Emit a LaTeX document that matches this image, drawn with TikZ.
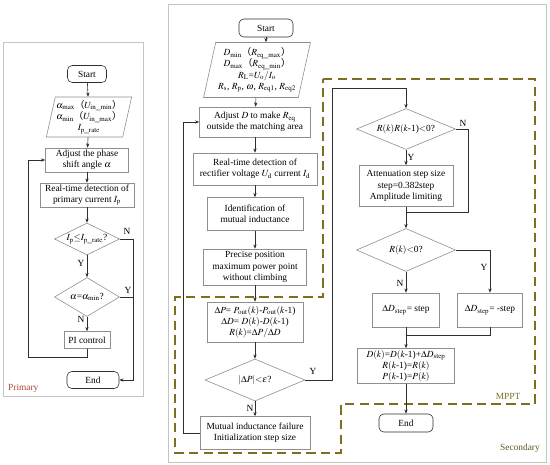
\documentclass[tikz,border=0pt]{standalone}
\usepackage{mathptmx}
\usepackage{fontspec}
\setmainfont{Liberation Serif}
\newfontfamily\cjkfont{Noto Sans CJK SC}
\usetikzlibrary{arrows.meta,shapes.geometric}
\usetikzlibrary{positioning}

\definecolor{framegray}{HTML}{C4C4C4}
\definecolor{boxgray}{HTML}{8E8E8E}
\definecolor{linegray}{HTML}{2E2E2E}
\definecolor{mpptolive}{HTML}{7D6E22}
\definecolor{primred}{HTML}{A8433A}
\newcommand{\lpar}{{\cjkfont （}}
\newcommand{\rpar}{{\cjkfont ）}}

\begin{document}
\begin{tikzpicture}[x=0.03cm,y=-0.03cm,>={Stealth[length=3.6pt,width=2.8pt]},
    font=\fontsize{8}{9.6}\selectfont,
    proc/.style={rectangle, draw=boxgray, fill=white, align=center, inner sep=1pt, line width=0.5pt},
    term/.style={rectangle, rounded corners=4pt, draw=linegray, fill=white, line width=0.5pt},
    dec/.style={diamond, aspect=2.35, draw=boxgray, fill=white, inner sep=0pt, line width=0.5pt},
    inout/.style={trapezium, trapezium left angle=76, trapezium right angle=104,
                  trapezium stretches=true, draw=boxgray, fill=white, align=center, inner sep=1pt, line width=0.5pt},
    flow/.style={->, draw=linegray, line width=0.5pt},
    line/.style={draw=linegray, line width=0.5pt},
    lbl/.style={inner sep=0pt},
    frame/.style={draw=framegray, line width=0.6pt}]

\useasboundingbox (0,0) rectangle (550,464);

% frames
\draw[frame] (3,42) rectangle (143,396);
\draw[frame] (168,4) rectangle (546,462);
\draw[draw=mpptolive, line width=1.2pt, dash pattern=on 8pt off 4.5pt]
    (323,79) -- (535,79) -- (535,404) -- (341,404) -- (341,453) -- (175,453) -- (175,297) -- (323,297) -- cycle;

% primary side
\node[term, minimum width=1.17cm, minimum height=0.51cm] (pstart) at (87,74) {Start};
\node[inout, minimum width=1.95cm, minimum height=1.2cm] (pin) at (89,117)
    {$\alpha_{\max}$\lpar$U_{\mathrm{in\_min}}$\rpar\\$\alpha_{\min}$\lpar$U_{\mathrm{in\_max}}$\rpar\\$I_{\mathrm{p\_rate}}$};
\node[proc, minimum width=2.49cm, minimum height=0.72cm] (padj) at (87,160) {Adjust the phase\\shift angle $\alpha$};
\node[proc, minimum width=2.82cm, minimum height=0.72cm] (pdet) at (87,195) {Real-time detection of\\primary current $I_{\mathrm{p}}$};
\node[dec, aspect=2, minimum width=1.95cm, minimum height=0.96cm] (pd1) at (87,239) {$I_{\mathrm{p}}{\leq}I_{\mathrm{p\_rate}}$?};
\node[dec, aspect=1.67, minimum width=1.95cm, minimum height=1.17cm] (pd2) at (87,297) {$\alpha$=$\alpha_{\min}$?};
\node[proc, minimum width=1.38cm, minimum height=0.51cm] (ppi) at (87,340) {PI control};
\node[term, minimum width=1.56cm, minimum height=0.51cm] (pend) at (93,380) {End};
\coordinate (ploop) at (28,357);
\coordinate (pright) at (133,380);

\path[flow]
    (pstart) edge (pin)
    (pin) edge (padj)
    (padj) edge (pdet)
    (pdet) edge (pd1)
    (pd1) edge (pd2)
    (pd2) edge (ppi);
\draw[flow] (ppi.south) |- (ploop) |- (padj.west);
\draw[flow] (pd1.east) -| (pright) -- (pend.east);
\draw[line] (pd2.east) -- (pd2.east -| pright);

\node[lbl] (pN1) at (127,231) {N};
\node[lbl] (pY1) at (81,263) {Y};
\node[lbl] (pY2) at (128,290) {Y};
\node[lbl] (pN2) at (81,319) {N};
\node[lbl, text=primred, anchor=west] (prim) at (8,388) {Primary};

% secondary side
\node[term, minimum width=1.62cm, minimum height=0.54cm] (sstart) at (266,28) {Start};
\node[inout, minimum width=3.21cm, minimum height=1.65cm] (sin) at (257,70)
    {$D_{\min}$\lpar$R_{\mathrm{eq\_max}}$\rpar\\$D_{\max}$\lpar$R_{\mathrm{eq\_min}}$\rpar\\$R_{\mathrm{L}}$=$U_{\mathrm{o}}/I_{\mathrm{o}}$\\$R_{\mathrm{s}}$, $R_{\mathrm{p}}$, $\omega$, $R_{\mathrm{eq1}}$, $R_{\mathrm{eq2}}$};
\node[proc, minimum width=3.33cm, minimum height=0.9cm] (sadj) at (255,122) {Adjust $D$ to make $R_{\mathrm{eq}}$\\outside the matching area};
\node[proc, minimum width=3.72cm, minimum height=0.96cm] (sdet) at (255,169) {Real-time detection of\\rectifier voltage $U_{\mathrm{d}}$ current $I_{\mathrm{d}}$};
\node[proc, minimum width=2.88cm, minimum height=0.99cm] (sid) at (255,214) {Identification of\\mutual inductance};
\node[proc, minimum width=3.09cm, minimum height=1.08cm] (spre) at (255,267) {Precise position\\maximum power point\\without climbing};
\node[proc, minimum width=2.88cm, minimum height=1.2cm] (scal) at (255,322)
    {$\Delta P$= $P_{\mathrm{out}}(k)$-$P_{\mathrm{out}}(k$-1)\\$\Delta D$= $D(k)$-$D(k$-1)\\$R(k)$=$\Delta P/\Delta D$};
\node[dec, aspect=2.38, minimum width=3.0cm, minimum height=1.26cm] (sdec) at (255,380) {$|\Delta P|{<}\varepsilon$?};
\node[proc, minimum width=3.3cm, minimum height=0.99cm] (sfail) at (255,433) {Mutual inductance failure\\Initialization step size};
\coordinate (sytop) at (332,88);
\coordinate (sloop) at (183,433);

\draw[flow] (sstart.south) -- (sstart.south |- sin.north);
\path[flow]
    (sin) edge (sadj)
    (sadj) edge (sdet)
    (sdet) edge (sid)
    (sid) edge (spre)
    (spre) edge (scal)
    (scal) edge (sdec)
    (sdec) edge (sfail);
\draw[flow] (sfail.west) -- (sloop) |- (sadj.west);

% MPPT loop
\node[dec, aspect=2.4, minimum width=2.97cm, minimum height=1.23cm] (rd1) at (406,129) {$R(k)R(k$-1)$<$0?};
\node[proc, minimum width=2.82cm, minimum height=1.23cm] (ratt) at (406,186) {Attenuation step size\\step=0.382step\\Amplitude limiting};
\node[dec, aspect=2.3, minimum width=2.97cm, minimum height=1.29cm] (rd2) at (406,250) {$R(k)$$<$0?};
\node[proc, minimum width=2.01cm, minimum height=1.02cm] (rpos) at (406,310) {$\Delta D_{\mathrm{step}}$= step};
\node[proc, minimum width=1.95cm, minimum height=1.02cm] (rneg) at (490,310) {$\Delta D_{\mathrm{step}}$= -step};
\node[proc, minimum width=2.91cm, minimum height=1.05cm] (rupd) at (406,366)
    {$D(k)$=$D(k$-1)+$\Delta D_{\mathrm{step}}$\\$R(k$-1)=$R(k)$\\$P(k$-1)=$P(k)$};
\node[term, minimum width=1.62cm, minimum height=0.54cm] (send) at (406,423) {End};
\coordinate (rnr) at (468,212);
\coordinate (rnj) at (406,212);
\coordinate (rmj) at (406,335);

\draw[flow] (sdec.east) -| (sytop) -| (rd1.north);
\path[flow]
    (rd1) edge (ratt)
    (ratt) edge (rd2)
    (rd2) edge (rpos)
    (rpos) edge (rupd)
    (rupd) edge (send);
\draw[line] (rd1.east) -| (rnr) -- (rnj);
\draw[flow] (rd2.east) -| (rneg.north);
\draw[line] (rneg.south) |- (rmj);

\node[lbl] (sY) at (313,371) {Y};
\node[lbl] (sN) at (250,408) {N};
\node[lbl] (rN1) at (463,123) {N};
\node[lbl] (rY1) at (411,157) {Y};
\node[lbl] (rY2) at (484,267) {Y};
\node[lbl] (rN2) at (400,283) {N};
\node[lbl, text=mpptolive] (mppt) at (508,396) {MPPT};
\node[lbl, text=mpptolive!80!black] (secd) at (520,448) {Secondary};

\end{tikzpicture}
\end{document}
